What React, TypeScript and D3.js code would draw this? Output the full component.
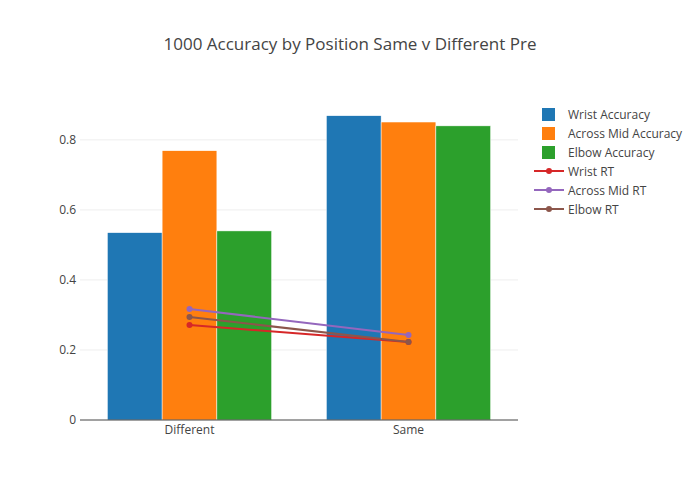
import * as d3 from 'd3';

const categories = ['Different', 'Same'];
const barSeries = ['Wrist Accuracy', 'Across Mid Accuracy', 'Elbow Accuracy'];
const barColors = ['#1f77b4', '#ff7f0e', '#2ca02c'];
const wristAcc = [0.535, 0.869];
const acrossAcc = [0.769, 0.851];
const elbowAcc = [0.54, 0.84];
const lineSeries = ['Wrist RT', 'Across Mid RT', 'Elbow RT'];
const lineColors = ['#d62728', '#9467bd', '#8c564b'];
const wristRT = [0.271, 0.223];
const acrossRT = [0.317, 0.243];
const elbowRT = [0.294, 0.223];
const yTicks = [0, 0.2, 0.4, 0.6, 0.8];

export default function App() {
  const width = 700, height = 500;
  const m = { left: 80, right: 182, top: 80, bottom: 80 };
  const x = d3.scaleBand().domain(categories).range([m.left, width - m.right]);
  const y = d3.scaleLinear().domain([0, 0.971]).range([height - m.bottom, m.top]);
  const inner = d3.scaleBand().domain(barSeries).range([0, x.bandwidth()]).paddingOuter(0.5);
  const bars = [wristAcc, acrossAcc, elbowAcc];
  const lines = [wristRT, acrossRT, elbowRT];
  const line = d3.line<number>().x((_, i) => x(categories[i])! + x.bandwidth() / 2).y((d) => y(d));
  const font = '"Open Sans", sans-serif';
  return (
    <svg width={width} height={height} style={{ position: 'absolute', left: 0, top: 0, fontFamily: font }}>
      <rect width={width} height={height} fill="#fff" />
      <text x={350} y={50} textAnchor="middle" fontSize={17} fill="#444">1000 Accuracy by Position Same v Different Pre</text>
      {yTicks.map((t) => (
        <g key={t}>
          {t > 0 && <line x1={m.left} x2={width - m.right} y1={y(t)} y2={y(t)} stroke="#eee" />}
          <text x={m.left - 4} y={y(t) + 4} textAnchor="end" fontSize={12} fill="#444">{t}</text>
        </g>
      ))}
      {bars.map((vals, s) => vals.map((v, i) => (
        <rect key={`${s}-${i}`} x={x(categories[i])! + inner(barSeries[s])!} width={inner.bandwidth()}
          y={y(v)} height={y(0) - y(v)} fill={barColors[s]} stroke="#fff" strokeWidth={0.5} />
      )))}
      <line x1={m.left} x2={width - m.right} y1={y(0)} y2={y(0)} stroke="#444" />
      {categories.map((c) => (
        <text key={c} x={x(c)! + x.bandwidth() / 2} y={y(0) + 14} textAnchor="middle" fontSize={12} fill="#444">{c}</text>
      ))}
      {lines.map((vals, s) => (
        <g key={s}>
          <path d={line(vals)!} fill="none" stroke={lineColors[s]} strokeWidth={2} />
          {vals.map((v, i) => (
            <circle key={i} cx={x(categories[i])! + x.bandwidth() / 2} cy={y(v)} r={3} fill={lineColors[s]} />
          ))}
        </g>
      ))}
      <g transform="translate(534,114)">
        {barSeries.map((s, i) => (
          <g key={s} transform={`translate(0,${i * 19})`}>
            <rect x={8} y={-6} width={13} height={13} fill={barColors[i]} />
            <text x={34} y={5} fontSize={12} fill="#444">{s}</text>
          </g>
        ))}
        {lineSeries.map((s, i) => (
          <g key={s} transform={`translate(0,${(i + 3) * 19})`}>
            <line x1={0} x2={30} y1={0} y2={0} stroke={lineColors[i]} strokeWidth={2} />
            <circle cx={15} cy={0} r={3} fill={lineColors[i]} />
            <text x={34} y={5} fontSize={12} fill="#444">{s}</text>
          </g>
        ))}
      </g>
    </svg>
  );
}
